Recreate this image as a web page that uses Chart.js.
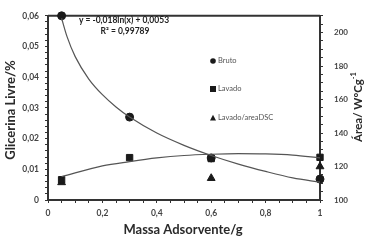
<!DOCTYPE html>
<html><head><meta charset="utf-8">
<script src="https://cdn.jsdelivr.net/npm/chart.js@4.4.1/dist/chart.umd.min.js"></script>
<style>html,body{margin:0;padding:0;background:#fff;}canvas{display:block;}</style>
</head><body>
<canvas id="c" width="366" height="245"></canvas>
<script>
// Measured points
const massa = [0.05, 0.3, 0.6, 1.0];
const bruto = [0.06, 0.027, 0.0137, 0.0068];          // Glicerina livre (%)
const lavado = [0.0066, 0.0138, 0.0135, 0.0139];      // Glicerina livre (%)
const lavadoDSC = [110.5, null, 113, 120];            // Área (W°C/g)
// Trend lines
const fitBrutoX = [0.05, 0.07, 0.1, 0.15, 0.2, 0.25, 0.3, 0.4, 0.5, 0.6, 0.7, 0.8, 0.9, 1.0];
const fitBrutoY = [0.0592, 0.0532, 0.0467, 0.0394, 0.0343, 0.0303, 0.0270, 0.0218, 0.0178, 0.0145, 0.0117, 0.0093, 0.0072, 0.0058];
const fitLavadoX = [0.05, 0.2, 0.3, 0.4, 0.5, 0.6, 0.7, 0.8, 0.9, 1.0];
const fitLavadoY = [0.0076, 0.0111, 0.0125, 0.0137, 0.0145, 0.0149, 0.0151, 0.0150, 0.0146, 0.0137];
const xTicks = [0, 0.2, 0.4, 0.6, 0.8, 1];
const yTicks = [0, 0.01, 0.02, 0.03, 0.04, 0.05, 0.06];
const y2Ticks = [100, 120, 140, 160, 180, 200];
const legendLabels = ['Bruto', 'Lavado', 'Lavado/areaDSC'];

const pts = (xs, ys) => xs.map((x, i) => ({x: x, y: ys[i]})).filter(p => p.y !== null);
const fmt = v => (Math.abs(v) < 1e-9 ? '0' : (Math.round(v * 100) / 100).toString().replace('.', ','));
const isMajor = (list, v) => list.some(t => Math.abs(t - v) < 1e-9);
const minor = (a, b, step) => { const out = []; const n = Math.round((b - a) / step); for (let i = 0; i <= n; i++) out.push({value: a + i * step}); return out; };

const INK = '#2a2a2a';
const LINE = '#555';
const AX = '#333333';
const FONT = 'Lato, "Open Sans", sans-serif';
const tickFont = {size: 8.5, family: FONT, weight: 'bold'};
const axisGrid = {display: true, drawOnChartArea: false, drawTicks: true, tickLength: 3, color: AX, lineWidth: 1};
const axisBorder = {display: true, color: AX, width: 2};

const frameTop = {
  id: 'frameTop',
  beforeDatasetsDraw(chart) {
    const ctx = chart.ctx, sx = chart.scales.x, sy = chart.scales.y;
    const L = sx.getPixelForValue(0), R = sx.getPixelForValue(1), T = sy.getPixelForValue(0.06);
    ctx.save();
    ctx.strokeStyle = AX;
    ctx.lineWidth = 2;
    ctx.beginPath();
    ctx.moveTo(L, T); ctx.lineTo(R, T);
    ctx.stroke();
    ctx.restore();
  }
};

const decor = {
  id: 'decor',
  afterDraw(chart) {
    const ctx = chart.ctx;
    ctx.save();
    ctx.fillStyle = INK;
    ctx.textAlign = 'center';
    ctx.textBaseline = 'middle';
    ctx.font = 'bold 13px ' + FONT;
    ctx.fillText('Massa Adsorvente/g', 183, 230);
    ctx.save();
    ctx.translate(11, 110); ctx.rotate(-Math.PI / 2);
    ctx.fillText('Glicerina Livre/%', 0, 0);
    ctx.restore();
    ctx.save();
    ctx.translate(358, 107); ctx.rotate(-Math.PI / 2);
    ctx.font = 'bold 11.5px ' + FONT;
    const t1 = 'Área/ W°Cg', t2 = '-1';
    const w1 = ctx.measureText(t1).width;
    ctx.font = 'bold 7.5px ' + FONT;
    const w2 = ctx.measureText(t2).width;
    const start = -(w1 + w2) / 2;
    ctx.textAlign = 'left';
    ctx.font = 'bold 11.5px ' + FONT;
    ctx.fillText(t1, start, 0);
    ctx.font = 'bold 7.5px ' + FONT;
    ctx.fillText(t2, start + w1, -4);
    ctx.restore();

    ctx.textAlign = 'center';
    ctx.font = 'bold 8.5px ' + FONT;
    ctx.fillStyle = '#222';
    ctx.fillText('y = -0,018ln(x) + 0,0053', 124, 20);
    ctx.fillText('R² = 0,99789', 125, 31);

    const lx = 213, ly = [61, 89, 118];
    ctx.fillStyle = '#1a1a1a';
    ctx.beginPath(); ctx.arc(lx, ly[0], 2.8, 0, Math.PI * 2); ctx.fill();
    ctx.fillRect(lx - 3, ly[1] - 3, 6, 6);
    ctx.beginPath(); ctx.moveTo(lx, ly[2] - 3.2); ctx.lineTo(lx + 3, ly[2] + 2.5); ctx.lineTo(lx - 3, ly[2] + 2.5); ctx.closePath(); ctx.fill();
    ctx.fillStyle = '#555';
    ctx.textAlign = 'left';
    ctx.font = '7.5px ' + FONT;
    legendLabels.forEach((t, i) => ctx.fillText(t, lx + 5, ly[i]));
    ctx.restore();
  }
};

new Chart(document.getElementById('c'), {
  type: 'scatter',
  data: {
    datasets: [
      {data: pts(fitBrutoX, fitBrutoY), showLine: true, borderColor: LINE, borderWidth: 1.2, pointRadius: 0, cubicInterpolationMode: 'monotone', yAxisID: 'y'},
      {data: pts(fitLavadoX, fitLavadoY), showLine: true, borderColor: LINE, borderWidth: 1.2, pointRadius: 0, cubicInterpolationMode: 'monotone', yAxisID: 'y'},
      {label: legendLabels[0], data: pts(massa, bruto), pointStyle: 'circle', pointRadius: 4, backgroundColor: '#1a1a1a', borderColor: '#1a1a1a', yAxisID: 'y'},
      {label: legendLabels[1], data: pts(massa, lavado), pointStyle: 'rect', pointRadius: 4.5, backgroundColor: '#1a1a1a', borderColor: '#1a1a1a', yAxisID: 'y'},
      {label: legendLabels[2], data: pts(massa, lavadoDSC), pointStyle: 'triangle', pointRadius: 4.5, backgroundColor: '#1a1a1a', borderColor: '#1a1a1a', yAxisID: 'y2'}
    ]
  },
  options: {
    responsive: false,
    animation: false,
    clip: false,
    layout: {autoPadding: false, padding: {top: 10}},
    plugins: {legend: {display: false}, tooltip: {enabled: false}},
    scales: {
      x: {
        type: 'linear', position: 'bottom', min: 0, max: 1,
        afterFit: s => { s.height = 45; },
        afterBuildTicks: s => { s.ticks = minor(0, 1, 0.05); },
        grid: axisGrid, border: axisBorder,
        ticks: {autoSkip: false, padding: 5, font: tickFont, color: '#444', maxRotation: 0,
                callback: v => (isMajor(xTicks, v) ? fmt(v) : '')}
      },
      y: {
        type: 'linear', position: 'left', min: 0, max: 0.06,
        afterFit: s => { s.width = 48; },
        afterBuildTicks: s => { s.ticks = minor(0, 0.06, 0.002); },
        grid: axisGrid, border: axisBorder,
        ticks: {autoSkip: false, padding: 6, font: tickFont, color: '#444',
                callback: v => (isMajor(yTicks, v) ? fmt(v) : '')}
      },
      y2: {
        type: 'linear', position: 'right', min: 100, max: 210,
        afterFit: s => { s.width = 46; },
        afterBuildTicks: s => { s.ticks = minor(100, 210, 5); },
        grid: axisGrid, border: axisBorder,
        ticks: {autoSkip: false, padding: 11, font: {size: 8, family: FONT, weight: 'bold'}, color: '#444',
                callback: v => (isMajor(y2Ticks, v) ? String(v) : '')}
      }
    }
  },
  plugins: [frameTop, decor]
});
</script>
</body></html>
